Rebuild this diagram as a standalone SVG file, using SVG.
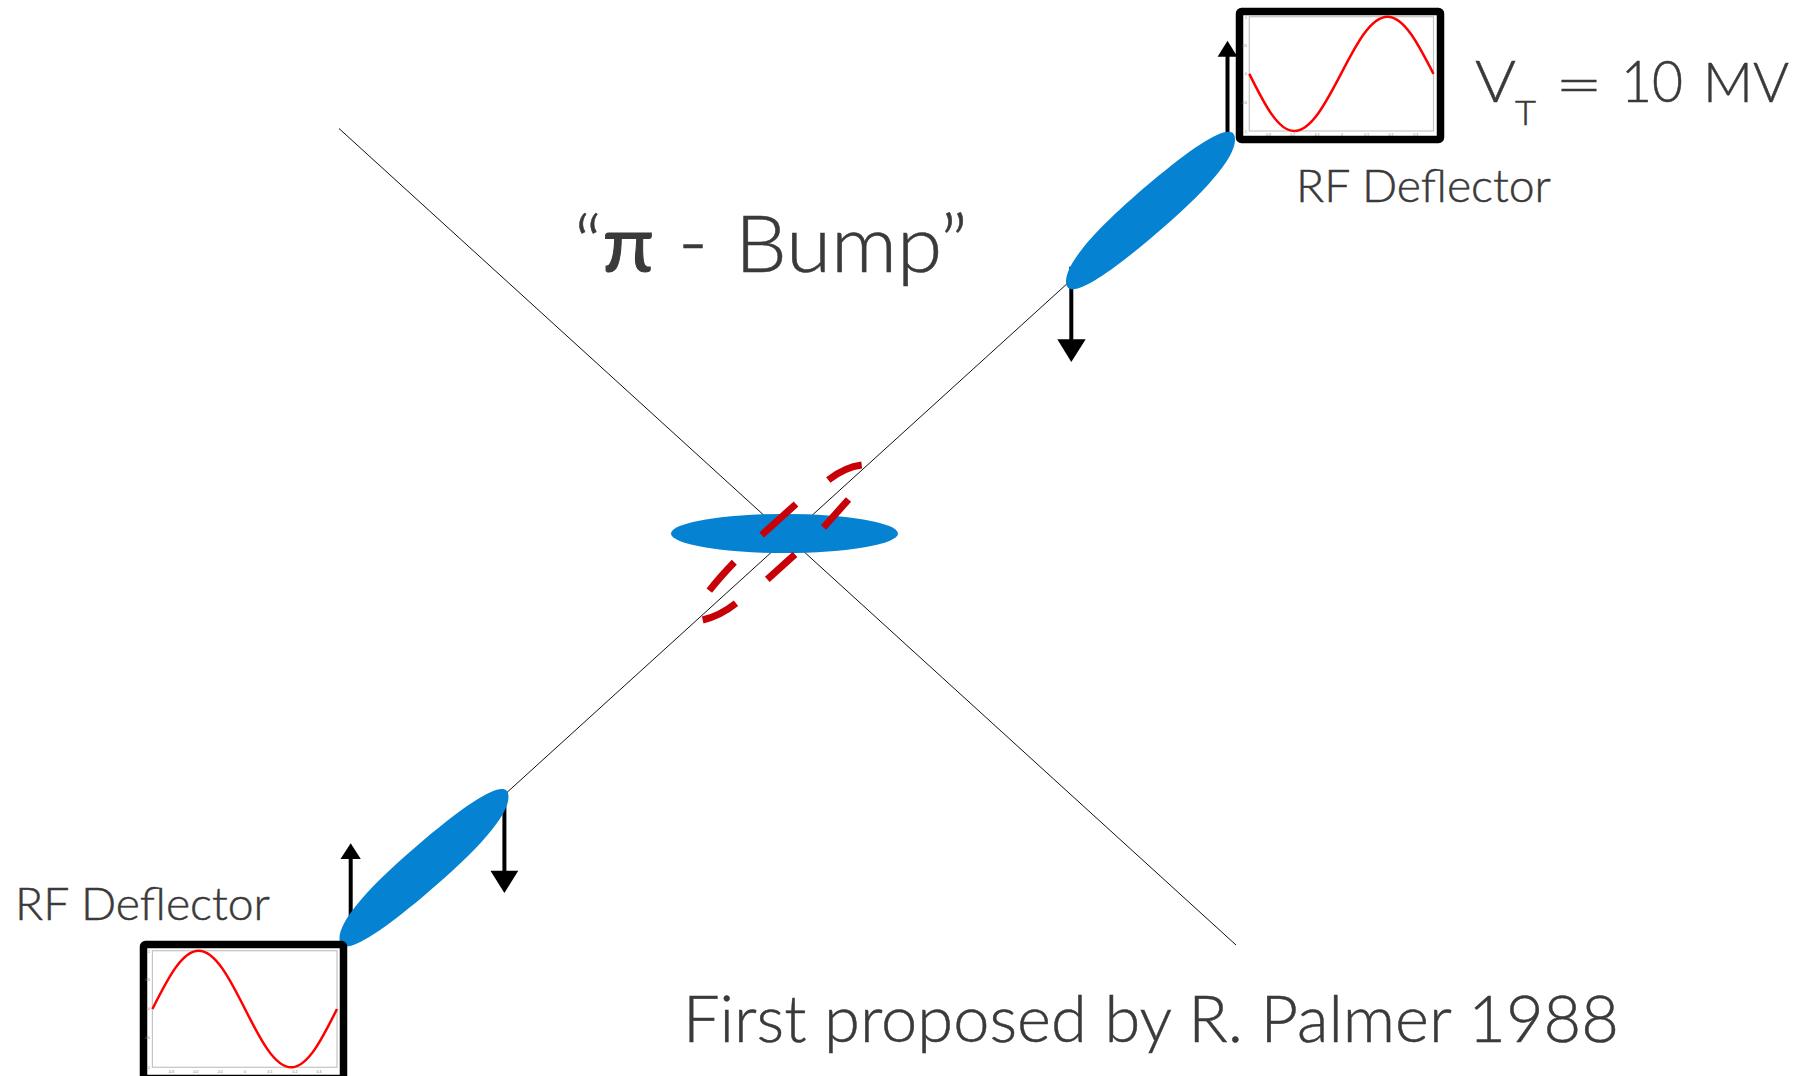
<svg xmlns="http://www.w3.org/2000/svg" width="1815" height="1076" viewBox="0 0 1815 1076">
<style>
.t{font-family:Lato,"Open Sans","Liberation Sans",sans-serif;font-weight:300;fill:#3a3a3a;stroke:#3a3a3a;stroke-width:.5}
.beam{stroke:#111;stroke-width:1;fill:none}
.shaft{stroke:#000;stroke-width:4;fill:none}
.head{fill:#000}
.bunch{fill:#0583d2}
.dash{stroke:#c80008;stroke-width:7;fill:none}
.box{fill:#fff;stroke:#000;stroke-width:7.5}
.frame{fill:none;stroke:#c4c4c4;stroke-width:1.2}
.sine{fill:none;stroke:#f00;stroke-width:2.5}
.tick{font-family:"Liberation Sans",sans-serif;font-size:3.5px;fill:#777}
</style>
<defs><path id="tilted" d="M-84.5 0C-84.5 -18.5 -55.8 -28 0 -28C55.8 -28 84.5 -18.5 84.5 0C84.5 18.5 55.8 28 0 28C-55.8 28 -84.5 18.5 -84.5 0Z"/></defs>
<rect width="1815" height="1076" fill="#fff"/>
<g id="connectors">
<line class="beam" x1="339" y1="128.5" x2="1236" y2="945"/>
<line class="beam" x1="1233" y1="133" x2="339" y2="945"/>
<path class="shaft" d="M1227.5 133V55"/><polygon class="head" points="1227.5,40.7 1217.6,56.7 1237.4,56.7"/>
<path class="shaft" d="M1071.3 266.7V340"/><polygon class="head" points="1071.3,362 1057.3,339.3 1085.7,339.3"/>
<path class="shaft" d="M350.7 925V858"/><polygon class="head" points="350.7,843.3 340.5,859 360.8,859"/>
<path class="shaft" d="M504.4 800V872"/><polygon class="head" points="504.4,893 490.5,870.7 518.3,870.7"/>
</g>
<g id="bunch-top"><use href="#tilted" class="bunch" transform="matrix(1 -0.84 0 1 1150.5 210.5)"/></g>
<g id="bunch-bottom"><use href="#tilted" class="bunch" transform="matrix(1 -0.84 0 1 424 867.8)"/></g>
<g id="bunch-centre"><ellipse class="bunch" cx="784.5" cy="533.5" rx="113.5" ry="19.5"/></g>
<g id="dashed-bunch">
<path class="dash" d="M861.7 465Q845 467 828.3 480"/>
<path class="dash" d="M848.5 499.5L823.5 527.5"/>
<path class="dash" d="M796 504L761.7 535"/>
<path class="dash" d="M795 554.3L767.3 579.3"/>
<path class="dash" d="M734.3 562.3Q720 577 709.3 590.7"/>
<path class="dash" d="M736 603.3Q720 616 702.7 620"/>
</g>
<g id="deflector-top">
<rect class="box" x="1239.5" y="11.5" width="201" height="128" rx="2"/>
<rect class="frame" x="1249.3" y="16.7" width="184.2" height="114.3"/>
<path class="sine" d="M1249.3 73.85C1263.9 103.15 1277.8 131 1294 131C1311 131 1325.7 103.15 1341 73.85C1356.2 44.55 1370.7 16.7 1387.5 16.7C1404.2 16.7 1418.5 44.55 1433.5 73.85"/>
<g><text class="tick" x="1247" y="18.5" text-anchor="end">1</text><text class="tick" x="1247" y="47" text-anchor="end">0.5</text><text class="tick" x="1247" y="75" text-anchor="end">0</text><text class="tick" x="1247" y="104" text-anchor="end">-0.5</text><text class="tick" x="1247" y="132.5" text-anchor="end">-1</text>
<text class="tick" x="1268" y="136" text-anchor="middle">-0.3</text><text class="tick" x="1292.3" y="136" text-anchor="middle">-0.2</text><text class="tick" x="1316.7" y="136" text-anchor="middle">-0.1</text><text class="tick" x="1342" y="136" text-anchor="middle">0</text><text class="tick" x="1366.7" y="136" text-anchor="middle">0.1</text><text class="tick" x="1391" y="136" text-anchor="middle">0.2</text><text class="tick" x="1415.7" y="136" text-anchor="middle">0.3</text></g>
</g>
<g id="deflector-bottom">
<rect class="box" x="143.5" y="944.5" width="200" height="134" rx="2"/>
<rect class="frame" x="152.4" y="950.7" width="184.6" height="116.6"/>
<path class="sine" d="M152.4 1009C167.5 979.1 181.9 950.7 198.6 950.7C215.4 950.7 229.9 979.1 245 1009C260.1 1038.9 274.5 1067.3 291.2 1067.3C307.8 1067.3 322.1 1038.9 337 1009"/>
<g><text class="tick" x="150" y="952.5" text-anchor="end">1</text><text class="tick" x="150" y="981" text-anchor="end">0.5</text><text class="tick" x="150" y="1010" text-anchor="end">0</text><text class="tick" x="150" y="1039" text-anchor="end">-0.5</text><text class="tick" x="150" y="1068.5" text-anchor="end">-1</text>
<text class="tick" x="171" y="1072.5" text-anchor="middle">-0.3</text><text class="tick" x="195.5" y="1072.5" text-anchor="middle">-0.2</text><text class="tick" x="220" y="1072.5" text-anchor="middle">-0.1</text><text class="tick" x="245" y="1072.5" text-anchor="middle">0</text><text class="tick" x="270" y="1072.5" text-anchor="middle">0.1</text><text class="tick" x="295" y="1072.5" text-anchor="middle">0.2</text><text class="tick" x="319" y="1072.5" text-anchor="middle">0.3</text></g>
</g>
<g id="labels">
<text class="t" x="1475" y="102" font-size="58" textLength="41" lengthAdjust="spacingAndGlyphs">V</text>
<text class="t" x="1515" y="125" font-size="33" textLength="21" lengthAdjust="spacingAndGlyphs">T</text>
<text class="t" x="1555" y="104" font-size="56" textLength="48" lengthAdjust="spacingAndGlyphs">=</text>
<text class="t" x="1621" y="102" font-size="58" textLength="62" lengthAdjust="spacingAndGlyphs">10</text>
<text class="t" x="1703" y="102" font-size="56" textLength="86" lengthAdjust="spacingAndGlyphs">MV</text>
<text class="t" x="1296" y="202" font-size="46" textLength="255" lengthAdjust="spacingAndGlyphs">RF Deflector</text>
<text class="t" x="15" y="920" font-size="46" textLength="255" lengthAdjust="spacingAndGlyphs">RF Deflector</text>
<text class="t" x="574" y="272" font-size="78" textLength="80" lengthAdjust="spacingAndGlyphs">“<tspan font-weight="400" stroke-width="1">π</tspan></text>
<text class="t" x="678" y="272" font-size="84" textLength="30" lengthAdjust="spacingAndGlyphs">-</text>
<text class="t" x="735" y="272" font-size="78" textLength="233" lengthAdjust="spacingAndGlyphs">Bump”</text>
<text class="t" x="683" y="1042" font-size="66" textLength="936" lengthAdjust="spacingAndGlyphs">First proposed by R. Palmer 1988</text>
</g>
</svg>
